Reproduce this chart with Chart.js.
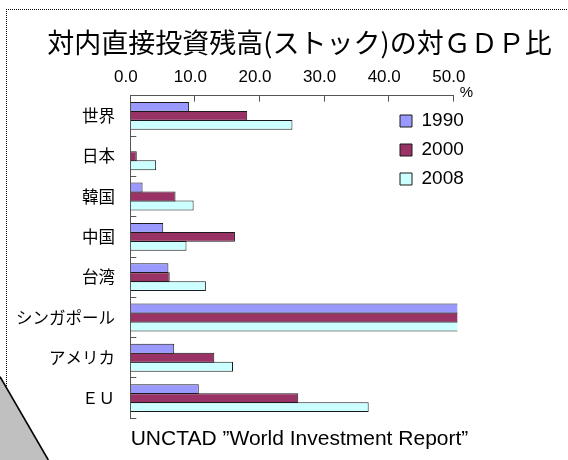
<!DOCTYPE html>
<html>
<head>
<meta charset="utf-8">
<script src="https://cdn.jsdelivr.net/npm/chart.js@4/dist/chart.umd.min.js"></script>
<style>
html,body{margin:0;padding:0;background:#fff;overflow:hidden;}
#wrap{position:relative;width:568px;height:460px;overflow:hidden;}
#frame{position:absolute;left:6px;top:9px;width:600px;height:500px;border-top:1px dotted #000;border-left:1px dotted #000;}
#c{position:absolute;left:0;top:0;}
#deco{position:absolute;left:0;top:0;}
</style>
</head>
<body>
<div id="wrap">
  <div id="frame"></div>
  <canvas id="c" width="599" height="460"></canvas>
  <svg id="deco" width="568" height="460">
    <polygon points="0,376.7 48.3,460 0,460" fill="#c0c0c0"/>
    <line x1="0" y1="376.7" x2="48.3" y2="460" stroke="#000" stroke-width="1.6"/>
  </svg>
</div>
<script>
// ---- data ----
const titleText = '対内直接投資残高(ストック)の対ＧＤＰ比';
const sourceText = 'UNCTAD ”World Investment Report”';
const unitLabel = '%';
const categories = ['世界', '日本', '韓国', '中国', '台湾', 'シンガポール', 'アメリカ', 'ＥＵ'];
const seriesNames = ['1990', '2000', '2008'];
// Singapore values run off the 50% scale in the reference (bars clipped)
const values1990 = [9.1, 0, 1.9, 5.1, 5.9, 75, 6.8, 10.6];
const values2000 = [18.1, 1.0, 7.0, 16.2, 6.1, 120, 13.0, 26.0];
const values2008 = [25.1, 4.0, 9.8, 8.7, 11.7, 160, 15.9, 36.9];
const tickValues = [0, 10, 20, 30, 40, 50];
const tickLabels = ['0.0', '10.0', '20.0', '30.0', '40.0', '50.0'];
const seriesColors = ['#9999ff', '#993366', '#ccffff'];

const latin = '"Liberation Sans", Arial, sans-serif';
const cjk = '"Noto Sans CJK JP", "Noto Sans CJK SC", sans-serif';

const placeLegend = {
  id: 'placeLegend',
  afterLayout(chart) {
    const lg = chart.legend, ca = chart.chartArea;
    if (!lg) return;
    lg.left = ca.right - 63.3;
    lg.top = ca.top + 5.8;
    lg.right = lg.left + 170;
    lg.bottom = lg.top + 200;
  }
};

const unitPlugin = {
  id: 'unitPlugin',
  afterDraw(chart) {
    const s = chart.scales.x, ctx = chart.ctx;
    ctx.save();
    ctx.font = '15px ' + latin;
    ctx.fillStyle = '#000';
    ctx.textAlign = 'center';
    ctx.textBaseline = 'middle';
    ctx.fillText(unitLabel, s.right + 13.2, s.bottom - 3.2);
    ctx.restore();
  }
};

const allValues = [values1990, values2000, values2008];
const datasets = seriesNames.map((name, i) => ({
  label: name,
  data: allValues[i],
  backgroundColor: seriesColors[i],
  borderColor: '#1a1a1a',
  borderWidth: 1,
  categoryPercentage: 0.67,
  barPercentage: 1.1,
  clip: {left: 0, top: 0, right: 4, bottom: 0}
}));

new Chart(document.getElementById('c'), {
  type: 'bar',
  data: { labels: categories, datasets },
  plugins: [placeLegend, unitPlugin],
  options: {
    indexAxis: 'y',
    responsive: false,
    animation: false,
    events: [],
    layout: { padding: { left: 0, top: 26.3, right: 0, bottom: 8 } },
    scales: {
      x: {
        position: 'top',
        min: 0,
        max: 50,
        afterBuildTicks: s => { s.ticks = tickValues.map(v => ({ value: v })); },
        afterFit: s => { s.height = 37; },
        grid: { display: true, drawOnChartArea: false, drawTicks: true, tickLength: -6, color: '#555', lineWidth: 1 },
        border: { display: true, color: '#555', width: 1 },
        ticks: {
          callback: (v, i) => tickLabels[i],
          font: { family: latin, size: 17 },
          color: '#000',
          padding: 14.5,
          labelOffset: -4.5,
          maxRotation: 0,
          autoSkip: false
        }
      },
      y: {
        afterFit: s => { s.width = 130.3; },
        grid: { display: true, drawOnChartArea: false, drawTicks: true, tickLength: -6, color: '#555', offset: true },
        border: { display: true, color: '#555', width: 1 },
        ticks: { font: { family: cjk, size: 16.5 }, color: '#000', padding: 21.3, autoSkip: false }
      },
      y2: {
        type: 'linear',
        position: 'right',
        display: true,
        afterFit: s => { s.width = 145.7; },
        grid: { display: false, drawTicks: false },
        border: { display: false },
        ticks: { display: false }
      }
    },
    plugins: {
      title: {
        display: true,
        text: titleText,
        font: { family: cjk, size: 27, weight: 'normal' },
        color: '#000',
        padding: { top: 0, bottom: 0 }
      },
      subtitle: {
        display: true,
        position: 'bottom',
        text: sourceText,
        font: { family: latin, size: 21, weight: 'normal' },
        color: '#000',
        padding: { top: 8.5, bottom: 0 }
      },
      legend: {
        position: 'chartArea',
        align: 'start',
        labels: {
          boxWidth: 12,
          boxHeight: 12,
          padding: 10,
          font: { family: latin, size: 19 },
          color: '#000'
        }
      },
      tooltip: { enabled: false }
    }
  }
});
</script>
</body>
</html>
